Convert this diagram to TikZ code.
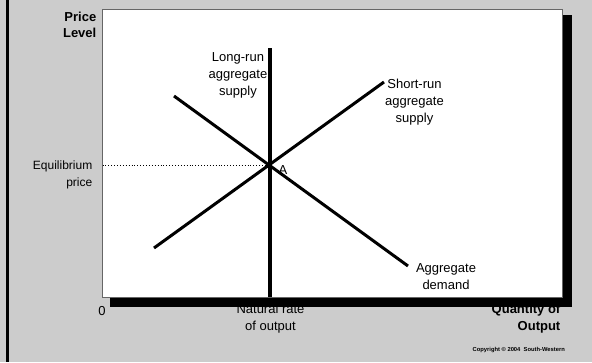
\documentclass[tikz,border=0pt]{standalone}
\usepackage{fontspec}
\setmainfont{Liberation Sans}
\begin{document}
\begin{tikzpicture}[x=1pt,y=-1pt,
  lbl/.style={font=\fontsize{13}{17}\selectfont, inner sep=0pt, align=center},
  boldlbl/.style={lbl, font=\fontsize{13}{16.5}\selectfont\bfseries},
  curve/.style={line width=3pt},
  bgcol/.style={fill=black!20}]
  % page background and left rule
  \fill[bgcol] (0,0) rectangle (592,362);
  \useasboundingbox (0,0) rectangle (592,362);
  \coordinate (rule-top) at (7.5,0);
  \coordinate (rule-bot) at (7.5,362);
  \draw[line width=2.2pt] (rule-top) -- (rule-bot);

  % axis labels under the plot area (partly hidden by its shadow)
  \node[lbl] (natural) at (270.5,318.5) {Natural rate\\of output};
  \node[boldlbl, align=right, anchor=east] (quantity) at (560.5,318.5) {Quantity of\\Output};

  % plot area with its drop shadow
  \fill[black] (110,15) rectangle (572,307);
  \draw[fill=white, draw=black!60, line width=0.8pt] (102,9.5) rectangle (562,297.5);

  % curve end points
  \coordinate (lras-top) at (270,48);
  \coordinate (lras-bot) at (270,297);
  \coordinate (ad-start) at (174,96);
  \coordinate (ad-end) at (408,266);
  \coordinate (sras-start) at (154,248);
  \coordinate (sras-end) at (384,82);
  \coordinate (eq-left) at (102.5,165);
  \coordinate (A) at (270,165);

  % equilibrium guide line
  \draw[dotted, line width=0.9pt] (eq-left) -- (A);

  % curves
  \draw[curve, line width=3.4pt] (lras-top) -- (lras-bot);
  \draw[curve] (ad-start) -- (ad-end);
  \draw[curve] (sras-start) -- (sras-end);

  % curve labels
  \node[lbl] (lras-lbl) at (238,75.5) {Long-run\\aggregate\\supply};
  \node[lbl] (sras-lbl) at (414.5,102) {Short-run\\aggregate\\supply};
  \node[lbl] (ad-lbl) at (446,277) {Aggregate\\demand};
  \node[lbl] (a-lbl) at (283,170) {A};

  % axis labels
  \node[boldlbl, align=right, anchor=east] (price) at (96.5,25) {Price\\Level};
  \node[lbl, font=\fontsize{12}{16.5}\selectfont, align=right, anchor=east] (eqprice) at (92.5,175) {Equilibrium\\price};
  \node[lbl] (zero) at (102,311) {0};

  % credit line
  \node[font=\fontsize{5.8}{7}\selectfont\bfseries, inner sep=0pt, anchor=east] (copy) at (565,350) {Copyright \textcopyright\ 2004\ \ South-Western};
\end{tikzpicture}
\end{document}
